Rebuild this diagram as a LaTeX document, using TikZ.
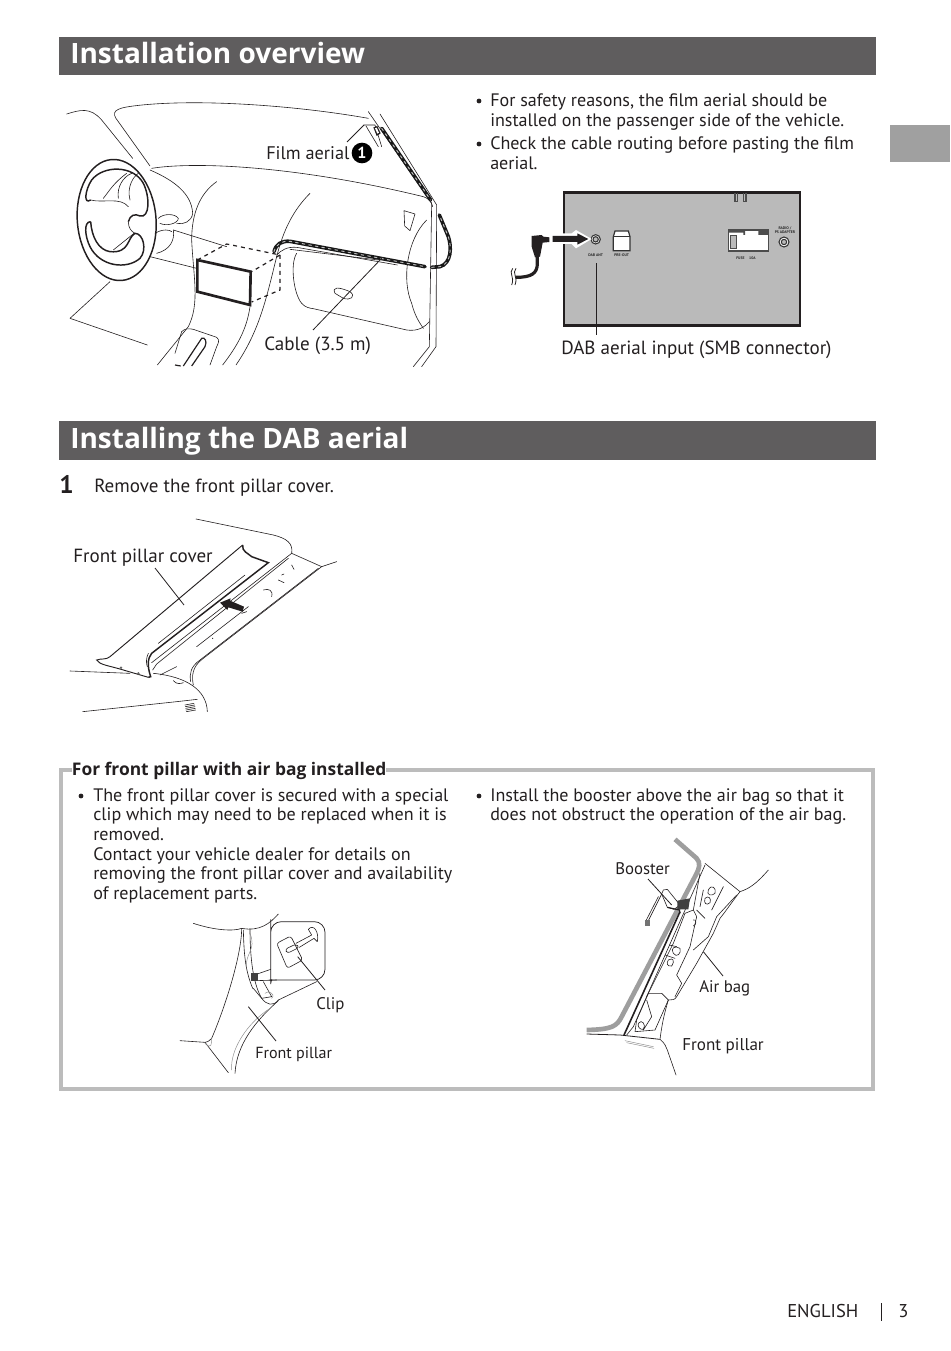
\documentclass[tikz,border=0pt]{standalone}
\usepackage{fontspec}
\setmainfont{PT Sans}
\newfontfamily\boldface{Open Sans}
\usetikzlibrary{arrows.meta}
\definecolor{barcol}{RGB}{95,93,94}
\definecolor{tabcol}{RGB}{160,160,160}
\definecolor{panelcol}{RGB}{186,186,186}
\definecolor{framecol}{RGB}{188,188,188}
\definecolor{inkcol}{RGB}{35,31,32}
\tikzset{
  headbar/.style={fill=barcol,draw=none},
  headtext/.style={anchor=base west,inner sep=0pt,text=white,font=\boldface\bfseries\fontsize{21}{26}\selectfont},
  bodytext/.style={anchor=north west,inner sep=0pt,align=left,text=inkcol,font=\fontsize{13.55}{14.75}\selectfont},
  label/.style={anchor=base west,inner sep=0pt,text=inkcol,font=\fontsize{14.3}{15}\selectfont},
  smalllabel/.style={anchor=base west,inner sep=0pt,text=inkcol,font=\fontsize{12.6}{15}\selectfont},
  bullet/.style={circle,fill=inkcol,inner sep=0pt,minimum size=3.6pt},
  leader/.style={line width=.6pt,inkcol},
  ink/.style={line width=.45pt,inkcol,line join=round,line cap=round},
  soft/.style={line width=.35pt,black!45,line cap=round},
  filmcable/.style={line width=2.7pt,black!90,line cap=round,postaction={draw=black!25,line width=.7pt,dash pattern=on 2pt off 3pt}},
  zoomed/.style={x=.25pt,y=-.25pt},
  tiny/.style={inner sep=0pt,text=black!85,font=\bfseries\fontsize{2.8}{3.2}\selectfont,align=center},
}
\begin{document}
\begin{tikzpicture}[x=.75pt,y=-.75pt]
  \useasboundingbox (0,0) rectangle (950,1351);

  % page furniture
  \fill [headbar] (59,37) rectangle (876,75);
  \fill [headbar] (59,421) rectangle (876,460);
  \fill [tabcol] (890,125) rectangle (950,162);
  \node [headtext] (overviewhead) at (70,63.5) {Installation overview};
  \node [headtext] (dabhead) at (70,448.5) {Installing the DAB aerial};

  % bullets top right
  \node [bullet] (dota) at (479,101) {};
  \node [bullet] (dotb) at (479,144) {};
  \node [bullet] (dotc) at (81,796) {};
  \node [bullet] (dotd) at (479,796) {};
  \node [bodytext] (safetytext) at (490,93.5) {For safety reasons, the film aerial should be\\installed on the passenger side of the vehicle.};
  \node [bodytext] (routetext) at (490,136.5) {Check the cable routing before pasting the film\\aerial.};

  % dashboard
  \begin{scope}[shift={(60,90)},zoomed]
    \draw [ink] (20,72) .. controls (60,60) and (90,50) .. (125,90) -- (218,205);
    \draw [ink] (270,228) -- (175,95) .. controls (150,65) and (165,55) .. (220,48) .. controls (400,25) and (700,45) .. (925,85);
    \draw [ink] (275,235) .. controls (400,215) and (700,225) .. (1090,320) .. controls (1105,325) and (1115,335) .. (1118,350);
    \draw [ink] (925,65) -- (1115,340) -- (1108,770) -- (1060,830);
    \draw [ink] (960,72) -- (1130,345) -- (1128,770) -- (1085,830);
    % wheel
    \draw [line width=1.1pt,inkcol] (170,390) ellipse [x radius=118,y radius=182,rotate=5];
    \draw [line width=1.1pt,inkcol] (92,330) .. controls (70,345) and (75,300) .. (95,270) .. controls (130,225) and (220,225) .. (250,280) .. controls (270,320) and (270,385) .. (240,378) .. controls (225,370) and (210,375) .. (205,395);
    \draw [line width=1.1pt,inkcol] (92,395) .. controls (70,395) and (75,440) .. (90,470) .. controls (120,530) and (200,540) .. (240,505) .. controls (262,480) and (250,430) .. (225,430) .. controls (200,445) and (210,490) .. (150,485) .. controls (115,480) and (95,440) .. (92,395);
    \draw [ink] (92,330) .. controls (130,340) and (180,320) .. (205,350);
    \draw [ink] (205,395) .. controls (205,415) and (215,425) .. (225,430);
    \draw [ink] (160,480) -- (222,430);
    \draw [ink] (130,325) .. controls (150,300) and (160,280) .. (200,250);
    \draw [ink] (175,325) .. controls (170,290) and (190,260) .. (215,250);
    \draw [ink] (210,330) .. controls (200,290) and (220,260) .. (235,250);
    % hood and stalk
    \draw [ink] (270,240) .. controls (340,270) and (395,310) .. (398,370) .. controls (395,395) and (370,405) .. (350,400);
    \draw [ink] (295,385) .. controls (310,370) and (345,370) .. (355,385) .. controls (355,400) and (320,410) .. (300,400);
    \draw [ink] (340,420) .. controls (345,450) and (330,480) .. (290,490);
    \draw [ink] (285,430) .. controls (310,415) and (330,420) .. (335,425);
    \draw [ink] (340,420) -- (500,470);
    \draw [ink] (270,500) -- (410,535);
    \draw [ink] (150,575) -- (30,685) -- (262,765);
    % centre stack
    \draw [ink] (470,275) .. controls (420,310) and (395,370) .. (395,450) .. controls (400,560) and (420,640) .. (385,710) -- (292,825);
    \draw [ink] (750,310) .. controls (700,360) and (670,420) .. (650,500) .. controls (620,620) and (600,720) .. (528,825);
    \draw [ink] (570,650) .. controls (560,720) and (530,770) .. (488,825);
    \draw [ink] (365,725) .. controls (375,715) and (385,715) .. (400,718) -- (470,742) .. controls (480,750) and (475,760) .. (470,770) -- (450,825);
    \draw [ink] (365,725) -- (345,790);
    \draw [line width=.9pt,inkcol] (370,828) -- (425,745) .. controls (435,740) and (442,755) .. (435,770) -- (395,828);
    \draw [line width=.9pt,inkcol] (345,825) -- (362,828);
    % glove box
    \draw [ink] (710,490) .. controls (690,520) and (700,610) .. (725,640) .. controls (735,652) and (750,655) .. (760,656) -- (1040,720) .. controls (1075,725) and (1095,710) .. (1108,695);
    \draw [ink] (650,495) .. controls (665,480) and (680,470) .. (710,472) -- (1012,525);
    \draw [ink] (690,478) -- (955,510);
    \draw [ink] (825,610) .. controls (815,590) and (835,590) .. (870,605) .. controls (890,620) and (870,632) .. (850,625) -- (825,610);
    \draw [ink] (1100,390) .. controls (1040,450) and (1025,570) .. (1055,640) .. controls (1065,680) and (1080,700) .. (1090,715);
    \draw [ink] (1032,362) -- (1065,372) -- (1050,422) -- (1034,408) -- cycle;
    % radio
    \draw [line width=2pt,inkcol] (412,510) -- (572,545) -- (570,645) -- (412,605) -- cycle;
    \draw [line width=.9pt,inkcol,dashed] (412,510) -- (500,462) -- (660,495) -- (575,545);
    \draw [line width=.9pt,inkcol,dashed] (660,495) -- (660,600) -- (575,636);
    % cable
    \draw [filmcable] (642,485) .. controls (648,462) and (665,452) .. (690,454) -- (1095,530);
    \draw [filmcable] (1115,532) -- (1140,530) .. controls (1175,520) and (1175,470) .. (1165,440) -- (1138,375);
    \draw [filmcable] (965,115) -- (1112,330);
    % film aerial
    \draw [ink] (912,105) -- (945,105) -- (965,170);
    \draw [ink] (918,108) -- (955,170);
    \fill [inkcol] (940,112) -- (952,108) -- (962,130) -- (950,138) -- cycle;
    \fill [white] (945,115) -- (950,113) -- (957,128) -- (952,131) -- cycle;
    \coordinate (filmtip) at (912,105);
    \coordinate (cabletip) at (965,505);
  \end{scope}
  \node [label,font=\fontsize{13.7}{15}\selectfont] (filmlabel) at (266,160) {Film aerial};
  \node [circle,fill=black,text=white,inner sep=0pt,minimum size=15.5pt,font=\bfseries\fontsize{12}{12}\selectfont] (filmnum) at (362,153) {1};
  \coordinate (filmstart) at (347,142);
  \draw [leader] (filmstart) -- (filmtip);
  \node [label] (cablelabel) at (264,351) {Cable (3.5 m)};
  \coordinate (cablestart) at (313,330);
  \draw [leader] (cablestart) -- (cabletip);

  % rear panel
  \begin{scope}[shift={(500,180)},zoomed]
    \draw [line width=2pt,inkcol,fill=panelcol] (192,37) rectangle (900,437);
    \draw [line width=.8pt,black!70] (705,40) -- (705,65) -- (712,65) -- (712,40);
    \draw [line width=.8pt,black!70] (730,40) -- (730,65) -- (738,65) -- (738,40);
    \draw [line width=.8pt,black!80,fill=white] (287,178) circle [radius=14];
    \draw [line width=.8pt,black!80,fill=panelcol] (287,178) circle [radius=8];
    \draw [line width=.8pt,black!80,fill=white] (852,186) circle [radius=15];
    \draw [line width=.8pt,black!80,fill=panelcol] (852,186) circle [radius=8];
    \draw [line width=.9pt,black!80,fill=white] (340,170) -- (345,153) -- (385,153) -- (390,170) -- (390,212) -- (340,212) -- cycle;
    \draw [line width=.9pt,black!80] (340,170) -- (390,170);
    \draw [line width=.9pt,black!70,fill=white] (685,150) rectangle (805,213);
    \fill [black!70] (730,150) rectangle (735,165) (775,150) rectangle (805,165) (685,150) rectangle (730,158);
    \draw [line width=.6pt,black!70,fill=panelcol] (690,165) rectangle (708,205);
    \node [tiny] (dabant) at (287,227) {DAB ANT};
    \node [tiny] (preout) at (365,225) {PRE-OUT};
    \node [tiny] (fuse) at (738,236) {FUSE \quad 10A};
    \node [tiny] (radioin) at (855,151) {RADIO /\\PS ADAPTER};
    % plug and arrow
    \fill [white] (158,160) -- (215,160) -- (228,150) -- (275,177) -- (228,205) -- (215,192) -- (158,192) -- cycle;
    \fill [inkcol] (158,168) -- (232,168) -- (232,160) -- (265,177) -- (232,194) -- (232,186) -- (158,186) -- cycle;
    \draw [line width=2.4pt,inkcol] (112,230) -- (112,250) .. controls (112,280) and (95,292) .. (48,292);
    \fill [inkcol] (95,168) -- (125,165) -- (130,170) -- (148,172) -- (148,186) -- (128,188) -- (120,230) -- (105,232) -- (95,200) -- cycle;
    \draw [line width=.6pt,inkcol] (38,265) .. controls (25,280) and (45,290) .. (35,315);
    \draw [line width=.6pt,inkcol] (48,265) .. controls (35,280) and (55,290) .. (45,315);
    \coordinate (dabtip) at (288,250);
  \end{scope}
  \node [label] (dablabel) at (561,354) {DAB aerial input (SMB connector)};
  \coordinate (dabstart) at (596,335);
  \draw [leader,line width=.7pt] (dabstart) -- (dabtip);

  \node [anchor=base west,inner sep=0pt,text=inkcol,font=\bfseries\fontsize{19}{20}\selectfont] (stepnum) at (59,493) {1};
  \node [label] (steptext) at (94,492) {Remove the front pillar cover.};

  % front pillar cover
  \begin{scope}[shift={(60,510)},zoomed]
    \draw [ink] (408,27) -- (640,75) .. controls (680,85) and (700,100) .. (695,130) -- (785,170) -- (830,155);
    \draw [ink] (695,130) -- (275,458);
    \draw [ink] (685,145) -- (290,462) -- (278,480);
    \draw [ink] (785,170) -- (430,445) .. controls (395,470) and (395,500) .. (400,525);
    \draw [ink] (775,175) -- (420,450) .. controls (392,470) and (388,490) .. (392,515);
    \draw [line width=.7pt,inkcol] (548,105) -- (150,440) .. controls (140,450) and (120,445) .. (110,450) .. controls (120,465) and (140,465) .. (190,480) -- (265,502);
    \draw [line width=1.1pt,inkcol] (548,105) .. controls (545,125) and (565,130) .. (575,140) -- (625,158) -- (275,430) .. controls (262,445) and (262,470) .. (272,500) -- (265,502);
    \draw [ink] (265,430) .. controls (258,445) and (258,460) .. (262,470);
    \draw [ink] (555,195) -- (295,400);
    \draw [ink] (565,290) -- (410,410);
    \draw [ink] (350,470) -- (300,495);
    \draw [ink] (610,240) .. controls (625,235) and (640,240) .. (635,260);
    \draw [ink] (665,195) -- (672,192) (655,210) -- (672,218) (695,165) -- (702,178);
    \draw [ink] (545,310) -- (560,305);
    \fill [inkcol] (458,385) circle [radius=2];
    \draw [ink] (30,483) -- (210,490);
    \draw [ink] (280,490) .. controls (380,500) and (440,540) .. (442,605);
    \draw [ink] (68,605) -- (350,575) -- (412,568);
    \draw [ink] (340,512) .. controls (350,525) and (365,520) .. (370,518);
    \fill [black!60] (183,473) circle [radius=4] (235,490) circle [radius=4];
    \draw [ink] (375,585) -- (402,580) (376,590) -- (404,585) (377,595) -- (405,590) (378,600) -- (406,595) (379,605) -- (407,600);
    \fill [inkcol] (552,290) -- (510,272) -- (512,265) -- (480,278) -- (502,300) -- (505,292) -- (548,305) -- cycle;
    \coordinate (covertip) at (372,285);
  \end{scope}
  \node [label] (coverlabel) at (73,562) {Front pillar cover};
  \coordinate (coverstart) at (155,568);
  \draw [leader] (coverstart) -- (covertip);

  % air bag box
  \draw [line width=3pt,framecol] (61,770) rectangle (873,1089);
  \node [anchor=base west,fill=white,inner sep=0pt,outer xsep=3.5pt,outer ysep=0pt,text=inkcol,font=\boldface\bfseries\fontsize{13.05}{15}\selectfont] (boxtitle) at (67.3,775) {For front pillar with air bag installed};
  \node [bodytext] (clipcopy) at (93,788) {The front pillar cover is secured with a special\\clip which may need to be replaced when it is\\removed.\\Contact your vehicle dealer for details on\\removing the front pillar cover and availability\\of replacement parts.};
  \node [bodytext] (boostercopy) at (490,788) {Install the booster above the air bag so that it\\does not obstruct the operation of the air bag.};

  % clip picture
  \begin{scope}[shift={(170,910)},zoomed]
    \draw [ink] (70,40) .. controls (130,60) and (190,65) .. (215,55) .. controls (270,65) and (300,40) .. (325,12);
    \draw [ink] (215,55) .. controls (215,130) and (170,280) .. (125,385) .. controls (115,395) and (110,397) .. (105,397) -- (30,392);
    \draw [ink] (105,397) -- (175,488);
    \draw [ink] (240,55) .. controls (240,170) and (255,230) .. (275,265) .. controls (290,285) and (310,290) .. (325,270);
    \draw [ink] (325,272) .. controls (260,330) and (200,400) .. (195,490);
    \draw [soft] (300,295) .. controls (230,340) and (180,420) .. (185,480);
    \draw [soft] (105,400) .. controls (125,420) and (125,400) .. (125,385);
    \draw [ink] (325,270) -- (440,215);
    \draw [ink] (220,60) .. controls (222,130) and (225,180) .. (248,235);
    \draw [ink] (250,235) -- (275,265) -- (305,260) -- (280,215);
    \draw [soft] (240,70) .. controls (260,120) and (225,130) .. (230,170) (285,250) .. controls (290,240) and (320,250) .. (305,265);
    \draw [line width=.55pt,inkcol,rounded corners=8pt] (302,60) -- (302,190) .. controls (302,205) and (315,210) .. (330,210) -- (465,210) -- (465,35) -- (302,35) -- cycle;
    \draw [ink] (302,178) -- (262,192) (320,210) -- (258,212);
    \fill [black!75] (242,190) rectangle (265,212);
    \draw [ink,rounded corners=2pt] (320,100) -- (362,78) -- (398,150) -- (352,175) -- cycle;
    \draw [ink,rounded corners=2pt] (345,118) -- (378,102) -- (388,112) -- (352,130) -- cycle;
    \draw [ink] (378,100) -- (425,75) (388,112) -- (432,85) (415,58) .. controls (430,40) and (448,65) .. (442,95) (425,75) -- (415,58) (432,85) -- (442,95);
    \coordinate (cliptip) at (383,140);
    \coordinate (leftpillartip) at (235,290);
  \end{scope}
  \node [smalllabel] (cliplabel) at (316,1009) {Clip};
  \coordinate (clipstart) at (325,990);
  \draw [leader] (clipstart) -- (cliptip);
  \node [smalllabel,font=\fontsize{12.05}{15}\selectfont] (leftpillarlabel) at (255,1058) {Front pillar};
  \coordinate (leftpillarstart) at (276,1041);
  \draw [leader] (leftpillarstart) -- (leftpillartip);

  % booster picture
  \begin{scope}[shift={(580,830)},zoomed]
    \draw [line width=3.5pt,black!38] (285,28) -- (350,85) .. controls (362,98) and (358,115) .. (350,130) -- (125,560) .. controls (110,590) and (95,598) .. (20,600);
    \draw [line width=1.2pt,inkcol] (300,245) -- (132,615);
    \draw [ink] (375,100) -- (480,185) .. controls (460,210) and (440,240) .. (420,265) -- (400,310) -- (350,400) -- (290,500) .. controls (285,510) and (275,510) .. (265,510) .. controls (250,560) and (245,590) .. (240,628) .. controls (255,640) and (258,650) .. (262,660) -- (288,735);
    \draw [ink] (480,185) .. controls (510,175) and (530,160) .. (565,120);
    \draw [line width=.6pt,inkcol] (20,612) -- (120,615) -- (240,628);
    \draw [soft] (135,632) -- (220,650) (140,638) -- (222,655);
    % air bag details
    \draw [ink] (375,105) -- (160,590) -- (140,615);
    \draw [ink] (360,130) -- (340,240) -- (315,250);
    \draw [ink] (470,195) -- (410,260) -- (385,320) -- (340,360);
    \draw [ink] (340,240) -- (350,260) -- (330,350) -- (290,435) -- (305,460) -- (285,500);
    \draw [ink] (315,250) -- (280,340) -- (250,400) -- (200,500);
    \draw [ink] (300,355) .. controls (285,345) and (270,355) .. (280,370) .. controls (290,385) and (305,370) .. (300,355);
    \draw [ink] (268,345) -- (290,350) (255,375) -- (285,385);
    \draw [ink] (265,390) .. controls (280,380) and (285,395) .. (275,408) .. controls (262,410) and (258,400) .. (265,390);
    \draw [ink] (385,180) .. controls (395,160) and (410,175) .. (405,190) .. controls (395,200) and (378,195) .. (385,180);
    \draw [ink] (375,205) .. controls (385,195) and (395,205) .. (390,218) .. controls (380,228) and (370,220) .. (375,205);
    \draw [ink] (350,240) -- (375,265) (370,180) -- (360,230) (430,170) -- (395,240);
    \draw [ink] (205,490) -- (245,490) -- (265,510) -- (225,600) -- (165,605) -- (170,570) -- (205,490);
    \draw [ink] (200,510) -- (215,560) -- (190,600) (175,580) .. controls (185,565) and (200,585) .. (190,598) .. controls (180,600) and (172,590) .. (175,580);
    \draw [ink] (340,270) .. controls (350,265) and (350,285) .. (340,288);
    % booster
    \draw [ink,fill=white] (250,180) -- (262,178) -- (300,225) -- (282,238) -- (262,232) -- (245,192) -- cycle;
    \fill [black!75] (292,212) -- (330,205) -- (325,238) -- (292,238) -- cycle;
    \draw [line width=.9pt,inkcol] (262,232) -- (298,240) -- (300,250);
    \draw [ink] (245,192) -- (205,272) (235,200) -- (198,272);
    \fill [black!55] (195,270) rectangle (210,288);
    \coordinate (boostertip) at (275,225);
    \coordinate (airbagtip) at (370,365);
  \end{scope}
  \node [smalllabel] (boosterlabel) at (615,874) {Booster};
  \coordinate (boosterstart) at (648,879);
  \draw [leader] (boosterstart) -- (boostertip);
  \node [smalllabel] (airbaglabel) at (699,992) {Air bag};
  \coordinate (airbagstart) at (723,976);
  \draw [leader] (airbagstart) -- (airbagtip);
  \node [smalllabel,font=\fontsize{12.8}{15}\selectfont] (rightpillarlabel) at (682,1050) {Front pillar};

  % footer
  \node [label,font=\fontsize{13.9}{15}\selectfont] (footlang) at (787,1317) {ENGLISH};
  \node [label,font=\fontsize{13.9}{15}\selectfont] (footnum) at (898,1317) {3};
  \coordinate (footbarup) at (881,1303);
  \coordinate (footbardown) at (881,1321);
  \draw [line width=.5pt,inkcol] (footbarup) -- (footbardown);
\end{tikzpicture}
\end{document}
